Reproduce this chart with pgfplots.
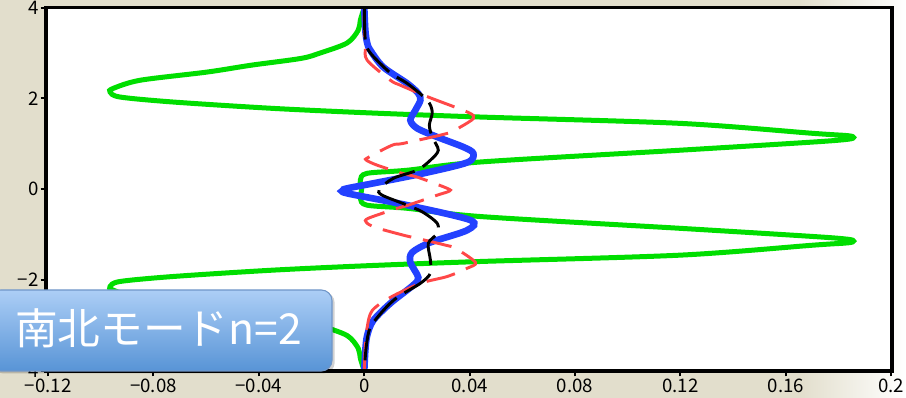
\documentclass[border=0pt]{standalone}
\usepackage{fontspec}
\setmainfont{Noto Sans CJK JP}
\usepackage{pgfplots}
\pgfplotsset{compat=1.18}
\definecolor{bgbeige}{RGB}{226,222,204}
\definecolor{cgreen}{RGB}{0,222,0}
\definecolor{cblue}{RGB}{35,65,255}
\definecolor{cred}{RGB}{255,72,72}
\definecolor{boxtop}{RGB}{172,206,246}
\definecolor{boxbot}{RGB}{88,148,214}
\definecolor{boxedge}{RGB}{112,150,200}
\begin{document}
\begin{tikzpicture}
\useasboundingbox (0pt,0pt) rectangle (679.5pt,298.5pt);
\fill[bgbeige] (0pt,0pt) rectangle (600pt,298.5pt);
\shade[left color=bgbeige,right color=white] (599.5pt,0pt) rectangle (679.5pt,298.5pt);
\begin{axis}[
  name=main,
  at={(34.5pt,20.25pt)}, anchor=south west,
  scale only axis, width=634.5pt, height=272.6pt,
  xmin=-0.1208, xmax=0.2003, ymin=-4, ymax=4,
  axis background/.style={fill=white},
  axis line style={line width=2.4pt},
  every tick/.style={black,line width=1.5pt},
  major tick length=4pt, tick align=outside,
  xtick pos=bottom, ytick pos=left,
  xtick={-0.12,-0.08,-0.04,0,0.04,0.08,0.12,0.16,0.2},
  xticklabels={−0.12,−0.08,−0.04,0,0.04,0.08,0.12,0.16,0.2},
  ytick={-4,-2,0,2,4},
  yticklabels={−4,−2,0,2,4},
  tick label style={font=\fontsize{14}{14}\selectfont},
  xticklabel style={yshift=1.5pt},
  yticklabel style={xshift=2pt},
  clip=true,
]
\addplot[cgreen, line width=3.75pt, smooth, tension=0.5] coordinates {
(0,4.0) (-0.0015,3.72) (-0.0023,3.5) (-0.0065,3.22) (-0.0167,3.0) (-0.024,2.88) (-0.043,2.73) (-0.0596,2.58) (-0.085,2.4) (-0.0953,2.22) (-0.0965,2.14) (-0.0927,2.03) (-0.0725,1.92) (-0.0346,1.78) (0.0023,1.68) (0.044,1.59) (0.12,1.45) (0.1705,1.23) (0.1835,1.18) (0.1857,1.14) (0.1835,1.10) (0.1705,1.04) (0.12,0.86) (0.044,0.6) (0.0165,0.42) (0.001,0.35) (-0.0015,0.2) (-0.001,0)
(-0.0015,-0.2) (0.001,-0.35) (0.0165,-0.42) (0.044,-0.6) (0.12,-0.86) (0.1705,-1.04) (0.1835,-1.10) (0.1857,-1.14) (0.1835,-1.18) (0.1705,-1.23) (0.12,-1.45) (0.044,-1.59) (0.0023,-1.68) (-0.0346,-1.78) (-0.0725,-1.92) (-0.0927,-2.03) (-0.0965,-2.14) (-0.0953,-2.22) (-0.085,-2.4) (-0.0596,-2.58) (-0.043,-2.73) (-0.024,-2.88) (-0.0167,-3.0) (-0.0065,-3.22) (-0.0023,-3.5) (-0.0015,-3.72) (0,-4.0)
};
\addplot[cblue, line width=5pt, smooth, tension=0.5] coordinates {
(0,4) (0.0004,3.5) (0.0011,3.22) (0.0023,3.06) (0.0072,2.69) (0.0163,2.33) (0.0205,2.11) (0.0213,1.96) (0.0194,1.74) (0.0175,1.52) (0.0201,1.34) (0.0277,1.15) (0.0376,0.93) (0.0414,0.79) (0.0391,0.59) (0.0224,0.35) (0.0034,0.13) (-0.0065,0.02) (-0.008,-0.02)
(-0.0065,-0.09) (0.0163,-0.35) (0.0403,-0.68) (0.0391,-0.9) (0.0251,-1.17) (0.0182,-1.39) (0.0175,-1.61) (0.0205,-1.94) (0.0186,-2.11) (0.0099,-2.51) (0.0034,-2.89) (0.0011,-3.22) (0.0004,-3.55) (0,-4)
};
\addplot[cred, line width=2.2pt, smooth, tension=0.5, dash pattern=on 22pt off 9pt] coordinates {
(0,4) (0,3.6) (0.0004,3.13) (0.0011,2.84) (0.0099,2.4) (0.0137,2.29) (0.0243,2.03) (0.0395,1.69) (0.0414,1.56) (0.0365,1.37) (0.0315,1.23) (0.0148,1.01) (0.0106,0.97) (0.0015,0.7) (0.0008,0.64) (0.0049,0.53) (0.0144,0.35) (0.0205,0.26) (0.0315,0.02) (0.0323,-0.04) (0.0277,-0.13) (0.0167,-0.35) (0.0125,-0.42) (0.0015,-0.64) (0.0008,-0.73) (0.0042,-0.84) (0.0148,-1.01) (0.020,-1.08) (0.0308,-1.23) (0.0346,-1.3) (0.0422,-1.61) (0.039,-1.74) (0.0315,-1.92) (0.0213,-2.07) (0.0099,-2.38) (0.003,-2.67) (0.0011,-3.04) (0.0003,-3.55) (0,-4)
};
\addplot[black, line width=2.2pt, smooth, tension=0.5, dash pattern=on 24pt off 7pt] coordinates {
(0,4) (0.0004,3.28) (0.0023,3.0) (0.0099,2.56) (0.0163,2.33) (0.0239,1.96) (0.0258,1.7) (0.0247,1.41) (0.0258,1.15) (0.0281,0.86) (0.0251,0.64) (0.0201,0.42) (0.011,0.24) (0.0057,0) (0.0068,-0.13) (0.0163,-0.35) (0.0224,-0.51) (0.0277,-0.75) (0.0277,-0.97) (0.0243,-1.19) (0.0251,-1.56) (0.0251,-1.85) (0.0213,-2.07) (0.0125,-2.38) (0.0072,-2.67) (0.0023,-3.04) (0.0008,-3.44) (0,-4)
};
\end{axis}
\draw[line width=2.4pt] (main.south west) rectangle (main.north east);
\fill[black, opacity=0.18, rounded corners=8pt] (-6pt,18.5pt) rectangle (251pt,79.5pt);
\shade[top color=boxtop, bottom color=boxbot, draw=boxedge, line width=0.8pt, rounded corners=8pt] (-7.5pt,20.25pt) rectangle (249pt,81pt);
\node[text=white, font=\fontsize{32}{32}\selectfont] at (119pt,52.5pt) {南北モードn=2};
\end{tikzpicture}
\end{document}
